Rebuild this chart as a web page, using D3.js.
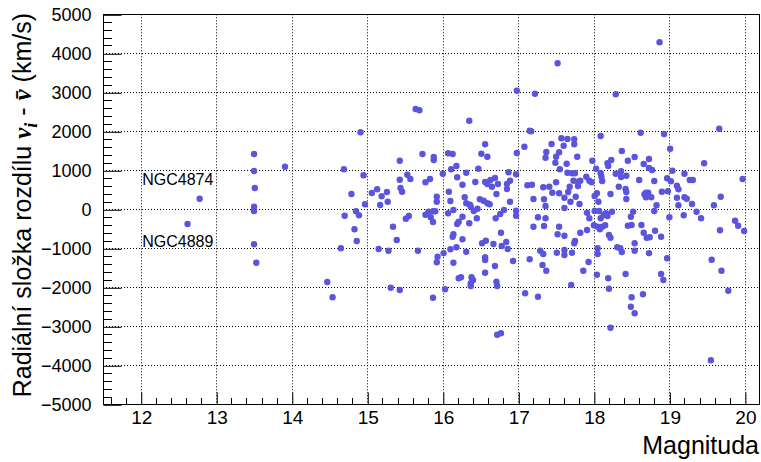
<!DOCTYPE html>
<html>
<head>
<meta charset="utf-8">
<script src="https://cdn.jsdelivr.net/npm/d3@7"></script>
<style>
  html, body { margin: 0; padding: 0; background: #fff; }
  svg { display: block; }
  text { font-family: "Liberation Sans", Arial, sans-serif; }
</style>
</head>
<body>
<svg id="chart" width="761" height="462"></svg>
<script>
// Data: magnitude (x) and radial velocity difference (y, km/s)
const magnitude = [
12.62,12.78,13.50,13.50,13.51,13.50,13.50,13.50,13.53,13.91,14.47,14.54,
15.64,15.69,14.91,15.73,15.88,15.88,15.43,14.69,14.95,15.53,15.57,15.43,15.83,15.77,15.44,15.46,15.13,15.06,14.79,15.26,15.19,15.92,
14.97,15.17,15.27,15.92,14.70,14.85,14.89,15.51,15.55,15.34,15.77,15.81,15.87,15.90,15.84,15.87,14.83,14.86,15.39,14.65,15.15,15.28,15.67,15.93,15.92,15.31,15.43,15.87,
16.98,17.22,16.35,17.15,17.17,16.56,17.08,16.07,16.13,16.51,16.59,16.98,16.18,16.11,16.47,16.31,16.00,16.87,16.97,16.19,16.69,16.63,16.56,16.59,16.65,16.73,16.89,16.85,16.85,16.43,16.26,17.12,17.18,16.08,16.71,16.29,16.49,17.20,
16.10,16.14,16.07,16.26,16.35,16.21,16.19,16.45,16.31,16.36,16.37,16.41,16.46,16.54,16.59,16.62,16.89,16.70,16.76,16.81,16.97,16.97,17.26,17.20,17.34,16.77,16.14,16.13,16.26,16.52,16.57,16.67,16.78,16.84,16.86,16.10,16.18,16.01,16.31,16.14,16.56,16.56,16.93,17.15,17.29,17.32,16.69,16.56,16.21,16.24,16.38,16.40,16.37,16.37,16.71,16.72,16.03,17.09,17.26,16.72,16.77,
17.52,18.29,18.62,18.09,17.57,17.65,17.74,17.74,17.44,17.60,17.37,17.36,17.54,17.50,17.78,18.37,18.54,17.49,17.64,17.98,18.18,18.19,18.23,18.45,18.66,18.73,17.55,18.03,17.65,17.71,17.75,18.09,18.10,18.11,18.29,18.36,18.36,18.43,17.90,17.73,17.79,17.82,17.79,17.94,17.97,17.50,18.60,17.33,17.41,17.68,17.66,17.61,17.54,17.45,17.76,18.33,18.42,18.43,18.22,18.04,18.01,17.34,18.43,18.67,18.69,
18.06,17.69,17.81,17.36,17.61,17.36,17.54,17.52,17.61,17.82,17.91,17.74,17.75,17.33,17.51,17.61,17.61,17.71,17.37,17.93,17.86,17.70,18.01,18.07,17.91,17.94,18.00,18.05,18.08,18.11,18.15,18.09,18.13,18.16,18.18,18.24,18.20,18.22,18.49,18.52,18.50,18.45,18.63,18.66,18.70,18.54,18.31,18.35,18.37,18.05,18.05,18.54,18.73,18.04,18.19,18.42,18.20,18.65,18.50,18.49,18.54,18.22,
18.87,19.66,18.93,19.01,18.73,18.77,19.46,19.04,19.20,19.97,18.97,19.02,19.27,19.31,18.80,19.10,19.12,18.90,18.98,18.72,18.76,18.69,19.68,19.10,19.20,19.23,19.30,19.12,18.83,19.59,
18.80,19.00,19.19,19.36,19.42,18.74,18.81,18.89,18.97,18.89,18.92,19.87,19.91,19.67,19.99,19.56,19.69,19.78,19.55
];
const velocityDiff = [
-377,272,1418,982,546,67,-44,-897,-1369,1092,-1864,-2256,
2572,2538,1974,1418,1341,1264,1246,1026,872,887,777,759,777,692,546,451,513,418,392,444,333,323,
128,110,195,195,-164,-51,-154,-241,-172,-446,-138,-62,-51,-51,-205,-326,-513,-813,-787,-1000,-1018,-1062,-1062,-1215,-1359,-2010,-2069,-2267,
3041,2964,2272,2015,2000,1667,1605,1436,1418,1426,1349,1444,1110,1026,1041,938,913,949,897,821,803,751,700,649,579,649,733,649,521,700,631,615,631,451,392,308,256,264,
213,-18,-103,-190,-359,-318,-377,-231,154,118,67,-44,15,221,154,128,195,-231,-121,-18,-36,-164,-205,-446,-428,-600,-641,-703,-769,-872,-805,-890,-941,-838,-1018,-1026,-974,-1128,-1087,-1369,-1231,-1300,-1326,-1282,-1062,-1428,-1454,-1626,-1769,-1744,-1744,-1813,-1897,-1967,-1856,-1967,-2051,-2154,-2241,-3215,-3179,
3744,2949,1964,1879,1821,1803,1795,1667,1674,1631,1469,1323,1462,1349,1349,1495,1341,1195,1169,1246,1179,1110,1264,1246,1162,1290,1026,1041,938,923,923,923,836,726,913,974,828,862,836,733,708,733,597,733,692,692,751,564,579,579,444,297,410,426,323,579,521,444,392,410,341,256,264,385,426,
195,195,136,85,33,-231,-446,-641,-677,-600,-531,-872,-813,-1146,-1113,-1044,-1172,-1113,-1574,-1351,-1574,-1941,-44,-44,-87,-231,-410,-446,-513,-446,-410,-231,-146,-103,-172,-62,-659,-728,-190,-62,-403,-421,-403,-600,-728,-872,-974,-1000,-1095,-1000,-1146,-1062,-1128,-1677,-1769,-1659,-2036,-2180,-2256,-2497,-2667,-3036,
4282,2067,1931,1554,1059,1008,1179,990,913,777,795,718,751,751,726,605,513,451,462,426,308,308,323,297,308,272,136,103,103,103,
-44,-205,-154,-62,-231,-718,-549,-703,-1256,-1659,-1813,-292,-421,-538,-556,-1292,-1574,-2087,-3872
];
const xTicks = [12,13,14,15,16,17,18,19,20];
const yTicks = [-5000,-4000,-3000,-2000,-1000,0,1000,2000,3000,4000,5000];
const annotations = [
  {label: "NGC4874", x: 12.02, y: 620},
  {label: "NGC4889", x: 12.02, y: -975}
];
const xTitle = "Magnituda";

const data = magnitude.map((m, i) => ({x: m, y: velocityDiff[i]}));

const L = 103, R = 760, T = 14.3, B = 404.3;
const x = d3.scaleLinear().domain([11.5, 20.2]).range([L, R]);
const y = d3.scaleLinear().domain([-5000, 5000]).range([B, T]);

const svg = d3.select("#chart");

// grid
const grid = svg.append("g").attr("stroke", "#000").attr("stroke-width", 1)
  .attr("stroke-dasharray", "1,2").attr("fill", "none");
grid.selectAll("line.gx").data(xTicks).join("line")
  .attr("x1", d => Math.round(x(d)) + 0.5).attr("x2", d => Math.round(x(d)) + 0.5)
  .attr("y1", T).attr("y2", B);
grid.selectAll("line.gy").data(yTicks.filter(d => d > -5000 && d < 5000)).join("line")
  .attr("y1", d => Math.round(y(d)) + 0.5).attr("y2", d => Math.round(y(d)) + 0.5)
  .attr("x1", L).attr("x2", R);

// points
svg.append("g").selectAll("circle").data(data).join("circle")
  .attr("cx", d => x(d.x)).attr("cy", d => y(d.y)).attr("r", 3.2)
  .attr("fill", "#5a55dc");

// frame
svg.append("rect").attr("x", L + 0.5).attr("y", Math.round(T) + 0.5)
  .attr("width", R - L - 1).attr("height", Math.round(B) - Math.round(T))
  .attr("fill", "none").attr("stroke", "#000").attr("stroke-width", 1);

// x axis (ticks inside)
const xAxis = d3.axisBottom(x).tickValues(xTicks).tickSize(-12).tickPadding(6)
  .tickFormat(d3.format("d"));
const gx = svg.append("g").attr("transform", `translate(0.5,${Math.round(B) + 0.5})`).call(xAxis);
gx.select(".domain").remove();
gx.selectAll("text").attr("font-size", 19).attr("fill", "#000")
  .attr("font-family", "Liberation Sans, Arial, sans-serif");
const xMinor = d3.range(11.6, 20.2, 0.2).filter(v => Math.abs(v - Math.round(v)) > 0.01);
svg.append("g").selectAll("line").data(xMinor).join("line")
  .attr("x1", d => Math.round(x(d)) + 0.5).attr("x2", d => Math.round(x(d)) + 0.5)
  .attr("y1", Math.round(B)).attr("y2", Math.round(B) - 6)
  .attr("stroke", "#000");

// y axis (ticks inside)
const yAxis = d3.axisLeft(y).tickValues(yTicks).tickSize(-18).tickPadding(12)
  .tickFormat(d3.format("d"));
const gy = svg.append("g").attr("transform", `translate(${L + 0.5},0.5)`).call(yAxis);
gy.select(".domain").remove();
gy.selectAll("text").attr("font-size", 18).attr("fill", "#000")
  .attr("font-family", "Liberation Sans, Arial, sans-serif");
const yMinor = d3.range(-4800, 5000, 200).filter(v => v % 1000 !== 0);
svg.append("g").selectAll("line").data(yMinor).join("line")
  .attr("y1", d => Math.round(y(d)) + 0.5).attr("y2", d => Math.round(y(d)) + 0.5)
  .attr("x1", L).attr("x2", L + 9)
  .attr("stroke", "#000");

// annotations
svg.append("g").selectAll("text").data(annotations).join("text")
  .attr("x", d => x(d.x)).attr("y", d => y(d.y))
  .attr("font-size", 16).attr("fill", "#000").text(d => d.label);

// x title
svg.append("text").attr("x", 759).attr("y", 454).attr("text-anchor", "end")
  .attr("font-size", 25).attr("fill", "#000").text(xTitle);

// y title
const yt = svg.append("text")
  .attr("transform", "translate(31,13) rotate(-90)")
  .attr("text-anchor", "end").attr("font-size", 25).attr("fill", "#000");
yt.append("tspan").text("Radiální složka rozdílu ");
yt.append("tspan").attr("font-family", "Liberation Serif, Times New Roman, serif")
  .attr("font-style", "italic").attr("font-weight", "bold").text("v");
yt.append("tspan").attr("font-family", "Liberation Serif, Times New Roman, serif")
  .attr("font-style", "italic").attr("font-weight", "bold").attr("font-size", 18)
  .attr("dy", 6).text("i");
yt.append("tspan").attr("dy", -6).text(" - ");
yt.append("tspan").attr("font-family", "Liberation Serif, Times New Roman, serif")
  .attr("font-style", "italic").attr("font-weight", "bold").text("v\u0304");
yt.append("tspan").text(" (km/s)");
</script>
</body>
</html>
